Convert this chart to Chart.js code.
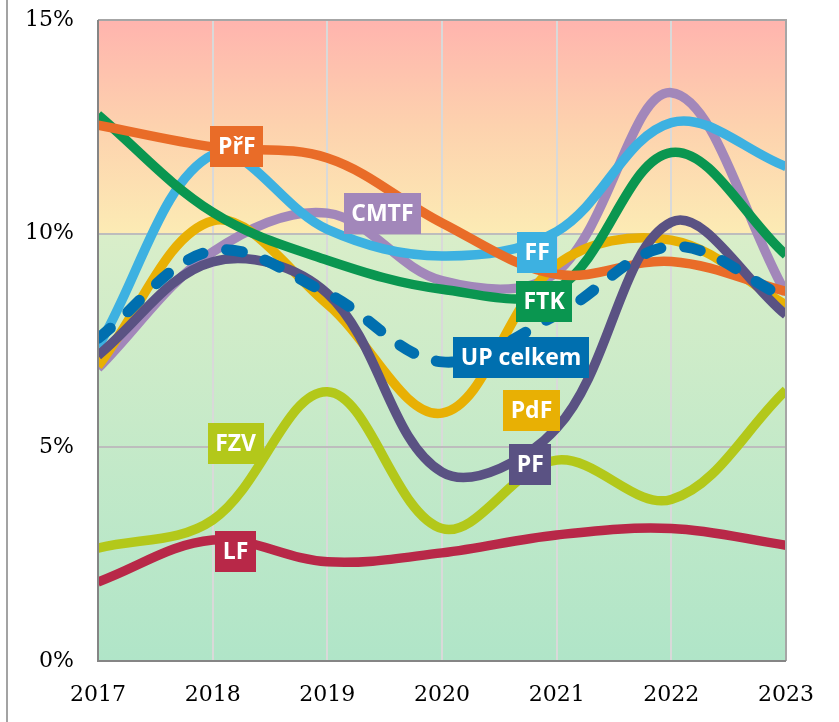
<!DOCTYPE html>
<html>
<head>
<meta charset="utf-8">
<script src="https://cdn.jsdelivr.net/npm/chart.js@4/dist/chart.umd.min.js"></script>
<style>
  html, body { margin: 0; padding: 0; background: #ffffff; }
  #wrap { position: relative; width: 839px; height: 722px; overflow: hidden; }
  #frame { position: absolute; left: 6px; top: 0; width: 2px; height: 722px; background: #a3a3a3; }
  canvas { position: absolute; left: 0; top: 0; }
</style>
</head>
<body>
<div id="wrap">
  <canvas id="c" width="839" height="722"></canvas>
  <div id="frame"></div>
</div>
<script>
// ---- data ----
const years = [2017, 2018, 2019, 2020, 2021, 2022, 2023];
const yTicks = [0, 5, 10, 15];

const PrF  = [12.54, 12.03, 11.77, 10.25, 9.05, 9.35, 8.65];
const FF   = [7.35, 11.85, 10.10, 9.48, 10.05, 12.60, 11.57];
const FTK  = [12.78, 10.50, 9.38, 8.70, 8.70, 11.90, 9.50];
const CMTF = [6.85, 9.57, 10.48, 8.90, 9.10, 13.30, 8.60];
const PdF  = [6.90, 10.30, 8.35, 5.80, 9.27, 9.85, 8.33];
const PF   = [7.15, 9.34, 8.60, 4.42, 5.45, 10.27, 8.10];
const FZV  = [2.64, 3.30, 6.30, 3.10, 4.70, 3.78, 6.34];
const LF   = [1.85, 2.83, 2.32, 2.53, 2.95, 3.10, 2.71];
const UP   = [7.55, 9.60, 8.60, 7.00, 8.10, 9.70, 8.50];

const seriesNames  = ['PřF', 'FF', 'FTK', 'CMTF', 'PdF', 'PF', 'FZV', 'LF', 'UP celkem'];
const seriesValues = [PrF, FF, FTK, CMTF, PdF, PF, FZV, LF, UP];
// label anchor positions (year, percent)
const labelX = [2018.21, 2020.83, 2020.89, 2019.48, 2020.78, 2020.77, 2018.20, 2018.20, 2020.69];
const labelY = [12.05, 9.55, 8.42, 10.48, 5.87, 4.59, 5.10, 2.57, 7.11];

// ---- styles ----
const colors = ['#E96C28', '#3DB1E1', '#0A9650', '#A287BA', '#E8B004', '#5A5283', '#B3C81A', '#B82848', '#006FAF'];
const drawOrder = [5, 7, 6, 9, 8, 4, 3, 2, 1];

const datasets = seriesNames.map((name, i) => ({
  label: name,
  data: years.map((yr, k) => ({ x: yr, y: seriesValues[i][k] })),
  borderColor: colors[i],
  backgroundColor: colors[i],
  borderWidth: i === 8 ? 11 : 9.5,
  borderDash: i === 8 ? [16, 24] : [],
  borderCapStyle: i === 8 ? 'round' : 'butt',
  borderJoinStyle: 'round',
  tension: 0.36,
  pointRadius: 0,
  fill: false,
  order: drawOrder[i],
  clip: 0
}));

const bgPlugin = {
  id: 'bg',
  beforeDraw(chart) {
    const { ctx, chartArea: a, scales } = chart;
    const y10 = scales.y.getPixelForValue(10);
    ctx.save();
    let g = ctx.createLinearGradient(0, a.top, 0, y10);
    g.addColorStop(0, '#FFB4AE');
    g.addColorStop(0.5, '#FDD2AE');
    g.addColorStop(1, '#FCEBB4');
    ctx.fillStyle = g;
    ctx.fillRect(a.left, a.top, a.right - a.left, y10 - a.top);
    g = ctx.createLinearGradient(0, y10, 0, a.bottom);
    g.addColorStop(0, '#D9EEC9');
    g.addColorStop(1, '#B0E5C8');
    ctx.fillStyle = g;
    ctx.fillRect(a.left, y10, a.right - a.left, a.bottom - y10);
    ctx.restore();
  }
};

const overlayPlugin = {
  id: 'overlay',
  afterDatasetsDraw(chart) {
    const { ctx, chartArea: a, scales } = chart;
    ctx.save();
    // plot border
    ctx.lineWidth = 2;
    ctx.strokeStyle = '#A6A6A6';
    ctx.beginPath();
    ctx.moveTo(a.left, a.top); ctx.lineTo(a.right, a.top); ctx.lineTo(a.right, a.bottom);
    ctx.stroke();
    ctx.strokeStyle = '#858585';
    ctx.beginPath();
    ctx.moveTo(a.left, a.top); ctx.lineTo(a.left, a.bottom); ctx.lineTo(a.right, a.bottom);
    ctx.stroke();
    // labels
    ctx.font = 'bold 23px "Open Sans", sans-serif';
    ctx.textAlign = 'center';
    ctx.textBaseline = 'middle';
    seriesNames.forEach((name, i) => {
      const px = scales.x.getPixelForValue(labelX[i]);
      const py = scales.y.getPixelForValue(labelY[i]);
      const w = ctx.measureText(name).width + 15;
      const h = 41;
      ctx.fillStyle = colors[i];
      ctx.fillRect(Math.round(px - w / 2), Math.round(py - h / 2), Math.round(w), h);
      ctx.fillStyle = '#FFFFFF';
      ctx.fillText(name, px, py + 1);
    });
    ctx.restore();
  }
};

new Chart(document.getElementById('c'), {
  type: 'line',
  data: { datasets },
  options: {
    responsive: false,
    animation: false,
    devicePixelRatio: 1,
    layout: { padding: { top: 20, right: 53, left: 0, bottom: 0 } },
    plugins: { legend: { display: false }, tooltip: { enabled: false } },
    scales: {
      x: {
        type: 'linear',
        min: years[0],
        max: years[years.length - 1],
        afterBuildTicks(s) { s.ticks = years.map(v => ({ value: v })); },
        afterFit(s) { s.height = 61; s.paddingLeft = 0; s.paddingRight = 0; },
        ticks: {
          callback: v => String(v),
          font: { family: '"DejaVu Serif", serif', size: 22 },
          color: '#000000',
          padding: 21,
          maxRotation: 0
        },
        grid: { color: '#D9D9D9', lineWidth: 2, drawTicks: false },
        border: { display: false }
      },
      y: {
        min: 0,
        max: 15,
        afterBuildTicks(s) { s.ticks = yTicks.map(v => ({ value: v })); },
        afterFit(s) { s.width = 98; s.paddingTop = 0; s.paddingBottom = 0; },
        ticks: {
          callback: v => v + '%',
          font: { family: '"DejaVu Serif", serif', size: 22 },
          color: '#000000',
          padding: 24
        },
        grid: { color: '#BDBDBD', lineWidth: 2, drawTicks: false },
        border: { display: false }
      }
    }
  },
  plugins: [bgPlugin, overlayPlugin]
});
</script>
</body>
</html>
